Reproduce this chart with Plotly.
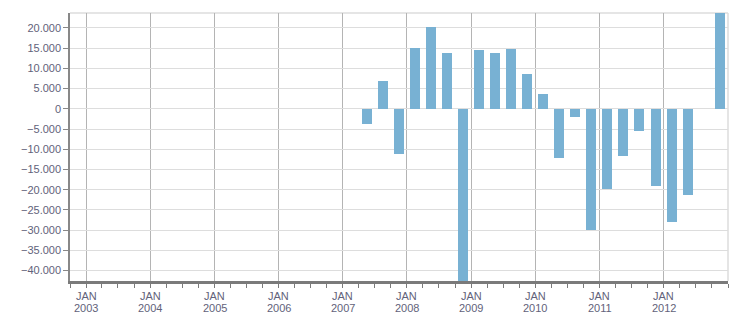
import plotly.graph_objects as go

quarters = ["2007-04-01", "2007-07-01", "2007-10-01",
            "2008-01-01", "2008-04-01", "2008-07-01", "2008-10-01",
            "2009-01-01", "2009-04-01", "2009-07-01", "2009-10-01",
            "2010-01-01", "2010-04-01", "2010-07-01", "2010-10-01",
            "2011-01-01", "2011-04-01", "2011-07-01", "2011-10-01",
            "2012-01-01", "2012-04-01", "2012-07-01", "2012-10-01"]
values = [-3700, 7000, -11300,
          15100, 20300, 13900, -46000,
          14600, 13900, 14800, 8700,
          3700, -12100, -2000, -29900,
          -19800, -11600, -5600, -19000,
          -28100, -21400, None, 25000]

year_ticks = ["2003-01-01", "2004-01-01", "2005-01-01", "2006-01-01", "2007-01-01",
              "2008-01-01", "2009-01-01", "2010-01-01", "2011-01-01", "2012-01-01"]
month_label = "JAN"
year_labels = ["2003", "2004", "2005", "2006", "2007",
               "2008", "2009", "2010", "2011", "2012"]
y_ticks = [20000, 15000, 10000, 5000, 0, -5000, -10000, -15000, -20000,
           -25000, -30000, -35000, -40000]

DAY = 86400000
fig = go.Figure()
fig.add_trace(go.Bar(
    x=quarters, y=values,
    xperiod="M3", xperiodalignment="middle",
    width=57 * DAY,
    marker=dict(color="#78b1d3", line=dict(width=0)),
))

font = dict(family="Liberation Sans, Arial, sans-serif", size=11, color="#62627a")

annotations = []
for tv, yl in zip(year_ticks, year_labels):
    annotations.append(dict(x=tv, xref="x", y=0, yref="paper", text=month_label,
                            showarrow=False, xanchor="center", yanchor="middle",
                            yshift=-14.5, font=font, borderpad=0))
    annotations.append(dict(x=tv, xref="x", y=0, yref="paper", text=yl,
                            showarrow=False, xanchor="center", yanchor="middle",
                            yshift=-26.7, font=font, borderpad=0))

fig.update_layout(
    width=751, height=313,
    margin=dict(l=70, r=23, t=13, b=32, autoexpand=False),
    paper_bgcolor="white", plot_bgcolor="white",
    separators=",.",
    showlegend=False,
    font=font,
    xaxis=dict(
        type="date",
        range=["2002-10-01", "2013-01-01"],
        tickvals=year_ticks,
        showticklabels=False,
        showgrid=True, gridcolor="#b4b4b4", gridwidth=1,
        ticks="outside", ticklen=4, tickcolor="#7a7a7a",
        showline=True, linecolor="#7a7a7a", linewidth=3,
        minor=dict(tick0="2003-01-01", dtick="M3", ticks="outside", ticklen=4,
                   tickcolor="#7a7a7a", showgrid=False),
        automargin=False,
        zeroline=False,
    ),
    yaxis=dict(
        range=[-42600, 23700],
        tickvals=y_ticks,
        tickformat=",d",
        showgrid=True, gridcolor="#dddddd", gridwidth=1,
        ticks="outside", ticklen=5, tickcolor="#888888",
        showline=True, linecolor="#888888", linewidth=1.5,
        zeroline=False,
        automargin=False,
        tickfont=font,
    ),
    bargap=0,
    annotations=annotations,
    shapes=[
        dict(type="line", xref="paper", yref="paper", x0=0, x1=1, y0=1, y1=1,
             line=dict(color="#dcdcdc", width=1.5), layer="below"),
        dict(type="line", xref="paper", yref="paper", x0=1, x1=1, y0=0, y1=1,
             line=dict(color="#dcdcdc", width=1.5), layer="below"),
    ],
)

fig.write_html("out.html")
